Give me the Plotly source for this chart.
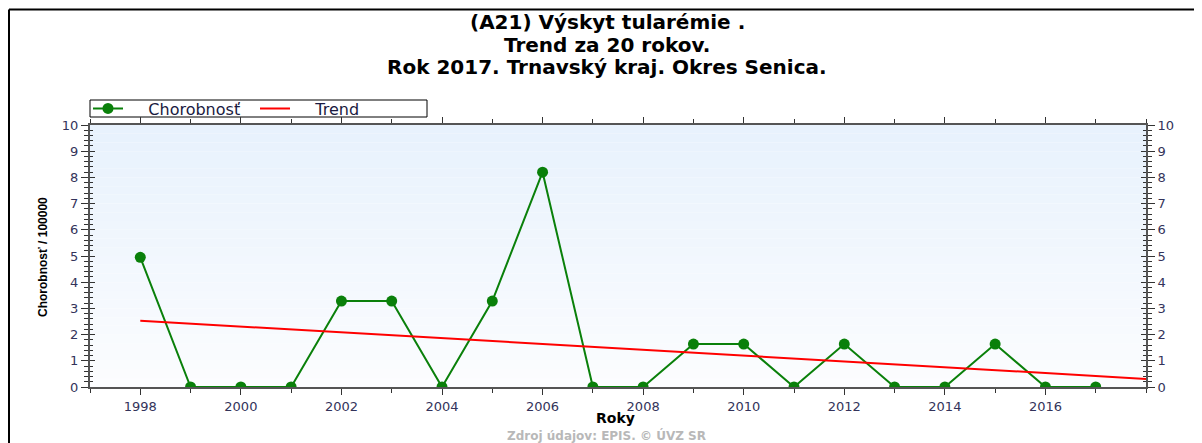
import plotly.graph_objects as go

years = list(range(1998, 2018))
chorobnost = [4.95, 0, 0, 0, 3.28, 3.28, 0, 3.28, 8.2, 0, 0, 1.64, 1.64, 0, 1.64, 0, 0, 1.64, 0, 0]
trend_years = [1998, 2018]
trend_values = [2.53, 0.31]
x_ticks = [1998, 2000, 2002, 2004, 2006, 2008, 2010, 2012, 2014, 2016]
y_ticks = list(range(0, 11))

OFF = 8  # default page body margin
W, H = 1202 - OFF, 443 - OFF
ML, MT = 90 - OFF, 125 - OFF
MR, MB = W - (1146 - OFF), H - (387 - OFF)
PW, PH = W - ML - MR, H - MT - MB

def px_x(p):  # page px -> paper x
    return (p - OFF - ML) / PW

def px_y(p):  # page px -> paper y
    return (H - MB - (p - OFF)) / PH

tick_color = "#33335a"
FF = "DejaVu Sans, Verdana, Arial"
fig = go.Figure()
fig.add_trace(go.Scatter(x=years, y=chorobnost, mode="lines+markers", name="\u00a0\u00a0\u00a0\u00a0Chorobnosť",
                         line=dict(color="#0a800a", width=2), cliponaxis=True,
                         marker=dict(color="#0a800a", size=11, symbol="circle")))
fig.add_trace(go.Scatter(x=trend_years, y=trend_values, mode="lines", name="\u00a0\u00a0\u00a0\u00a0Trend",
                         line=dict(color="#ff0000", width=2)))
fig.add_trace(go.Scatter(x=[trend_years[0]], y=[0], yaxis="y2", mode="markers",
                         marker=dict(opacity=0), showlegend=False, hoverinfo="skip"))
fig.add_trace(go.Scatter(x=[trend_years[0]], y=[0], yaxis="y3", mode="markers",
                         marker=dict(opacity=0), showlegend=False, hoverinfo="skip"))
fig.add_trace(go.Scatter(x=[trend_years[0]], y=[0], yaxis="y4", mode="markers",
                         marker=dict(opacity=0), showlegend=False, hoverinfo="skip"))

shapes = []
n = 30
for i in range(n):
    t = i / (n - 1)
    r = int(0xe8 + (0xfc - 0xe8) * (1 - t))
    g = int(0xf2 + (0xfd - 0xf2) * (1 - t))
    b = int(0xfd + (0xff - 0xfd) * (1 - t))
    shapes.append(dict(type="rect", xref="paper", yref="paper", x0=0, x1=1,
                       y0=i / n, y1=(i + 1) / n, line=dict(width=0),
                       fillcolor=f"rgb({r},{g},{b})", layer="below"))
# outer frame (at figure edge)
shapes.append(dict(type="line", xref="paper", yref="paper", x0=px_x(9), x1=px_x(1210),
                   y0=px_y(9.5), y1=px_y(9.5), line=dict(color="black", width=2)))
shapes.append(dict(type="line", xref="paper", yref="paper", x0=px_x(9), x1=px_x(9),
                   y0=px_y(9.5), y1=px_y(450), line=dict(color="black", width=2)))
# legend box
shapes.append(dict(type="rect", xref="paper", yref="paper", x0=px_x(90), x1=px_x(427),
                   y0=px_y(117), y1=px_y(100), line=dict(color="black", width=1),
                   fillcolor="white", layer="below"))

axis_font = dict(family=FF, size=13, color=tick_color)
title_lines = ["(A21) Výskyt tularémie .", "Trend za 20 rokov.", "Rok 2017. Trnavský kraj. Okres Senica."]
title_y = [22, 45, 67]
annotations = [dict(text=t, xref="paper", yref="paper", x=px_x(607), y=px_y(yy),
                    xanchor="center", yanchor="middle", showarrow=False,
                    font=dict(family=FF, size=20, color="black", weight="bold"))
               for t, yy in zip(title_lines, title_y)]
annotations.append(dict(text="Roky", xref="paper", yref="paper", x=px_x(615), y=px_y(418),
                        xanchor="center", yanchor="middle", showarrow=False,
                        font=dict(family=FF, size=14, color="black", weight="bold")))
annotations.append(dict(text="Chorobnosť / 100000", xref="paper", yref="paper", x=px_x(43), y=px_y(257),
                        xanchor="center", yanchor="middle", showarrow=False, textangle=-90,
                        font=dict(family="Liberation Sans, Arial", size=12, color="black", weight="bold")))
annotations.append(dict(text="Zdroj údajov: EPIS. © ÚVZ SR", xref="paper", yref="paper",
                        x=px_x(606), y=px_y(435), xanchor="center", yanchor="middle", showarrow=False,
                        font=dict(family=FF, size=12, color="#b8b8b8", weight="bold")))

tick_in = dict(range=[0, 10], tickvals=y_ticks, showgrid=False, zeroline=False, showline=False,
               showticklabels=False, ticks="inside", ticklen=5, tickcolor="#333",
               minor=dict(dtick=0.2, ticks="inside", ticklen=3, tickcolor="#333"))

fig.update_layout(
    width=W, height=H,
    margin=dict(l=ML, r=MR, t=MT, b=MB),
    paper_bgcolor="white",
    plot_bgcolor="rgba(0,0,0,0)",
    showlegend=True,
    legend=dict(orientation="h", x=px_x(88), xanchor="left", y=px_y(108.5), yanchor="middle",
                borderwidth=0, bgcolor="rgba(0,0,0,0)",
                font=dict(family=FF, size=16, color="#1a1a40"),
                entrywidthmode="pixels", entrywidth=122),
    xaxis=dict(range=[1997, 2018], tickvals=x_ticks, showgrid=False, zeroline=False,
               showline=True, linecolor="#555", linewidth=2, mirror="ticks",
               ticks="outside", ticklen=6, tickcolor="#333", tickfont=axis_font,
               minor=dict(dtick=1, tick0=1997, ticks="outside", ticklen=4, tickcolor="#333")),
    yaxis=dict(range=[0, 10], tickvals=y_ticks, showgrid=False, zeroline=False,
               showline=True, linecolor="#555", linewidth=2,
               ticks="outside", ticklen=7, tickcolor="#333", tickfont=axis_font,
               minor=dict(dtick=0.2, ticks="outside", ticklen=4, tickcolor="#333")),
    yaxis2=dict(range=[0, 10], tickvals=y_ticks, overlaying="y", side="right", showgrid=False,
                zeroline=False, showline=True, linecolor="#555", linewidth=2,
                ticks="outside", ticklen=7, tickcolor="#333", tickfont=axis_font,
                minor=dict(dtick=0.2, ticks="outside", ticklen=4, tickcolor="#333")),
    yaxis3=dict(overlaying="y", side="left", **tick_in),
    yaxis4=dict(overlaying="y", side="right", **tick_in),
    shapes=shapes,
    annotations=annotations,
)
fig.write_html("out.html")
